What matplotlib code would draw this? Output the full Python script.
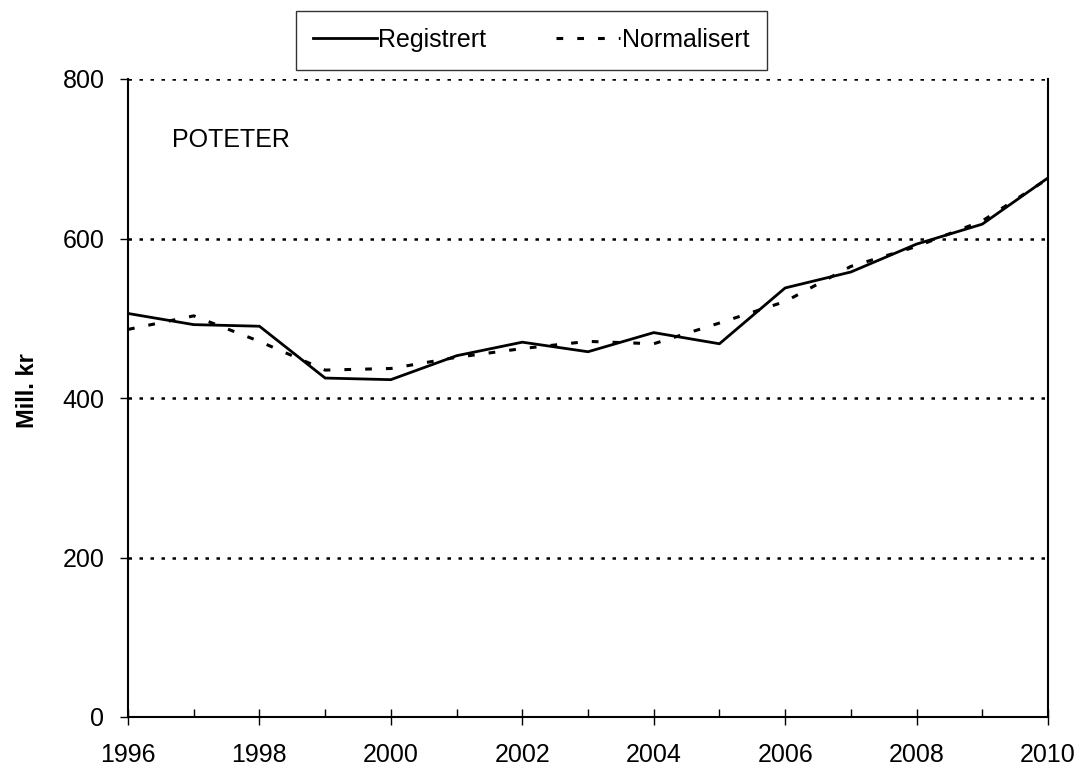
import matplotlib
matplotlib.use("Agg")
import matplotlib.pyplot as plt
from matplotlib.ticker import MultipleLocator

years = [1996, 1997, 1998, 1999, 2000, 2001, 2002, 2003, 2004, 2005, 2006, 2007, 2008, 2009, 2010]
registrert = [506, 492, 490, 425, 423, 453, 470, 458, 482, 468, 538, 558, 593, 618, 676]
normalisert = [486, 503, 471, 435, 437, 451, 462, 471, 468, 494, 521, 565, 590, 622, 675]
yticks = [0, 200, 400, 600, 800]
xticks = [1996, 1998, 2000, 2002, 2004, 2006, 2008, 2010]

plt.rcParams['font.family'] = ['Liberation Sans', 'DejaVu Sans']
FS = 18

fig = plt.figure(figsize=(10.84, 7.69), dpi=100)
ax = fig.add_axes([128/1084, 1-717/769, (1048-128)/1084, (717-79)/769])

for y in yticks[1:]:
    ax.axhline(y, color='black', linewidth=1.8, linestyle=(0, (1.4, 3.0)), zorder=1)

ax.plot(years, registrert, color='black', linewidth=2.0, label='Registrert', zorder=3)
ax.plot(years, normalisert, color='black', linewidth=2.2, linestyle=(0, (2.2, 4.6)),
        label='Normalisert', zorder=3)

ax.set_xlim(1996, 2010)
ax.set_ylim(0, 800)
ax.set_yticks(yticks)
ax.set_xticks(xticks)
ax.xaxis.set_minor_locator(MultipleLocator(1))
ax.tick_params(axis='y', direction='out', length=6, width=1, labelsize=FS, pad=11)
ax.tick_params(axis='x', which='major', direction='inout', length=12, width=1, labelsize=FS, pad=13)
ax.tick_params(axis='x', which='minor', direction='in', length=6, width=1)

ax.spines['top'].set_visible(False)
for s in ['left', 'bottom', 'right']:
    ax.spines[s].set_linewidth(1.5)
    ax.spines[s].set_color('black')

ax.text(1996.67, 723, 'POTETER', fontsize=FS, va='center', ha='left')

ax.set_ylabel('Mill. kr', fontsize=17, fontweight='bold',
              family=['Liberation Sans Narrow', 'Liberation Sans', 'DejaVu Sans'],
              va='center', ha='center')
ax.yaxis.set_label_coords((27-128)/920, (717-391)/638)

leg = fig.legend(loc='center', bbox_to_anchor=(531/1084, 1-40/769), ncol=2, fontsize=FS,
                 frameon=True, fancybox=False, shadow=False, handlelength=2.56,
                 handletextpad=0.05, columnspacing=2.8, borderpad=0.7, borderaxespad=0)
leg.get_frame().set_edgecolor('black')
leg.get_frame().set_linewidth(1.0)

fig.savefig('out.png', dpi=100)
